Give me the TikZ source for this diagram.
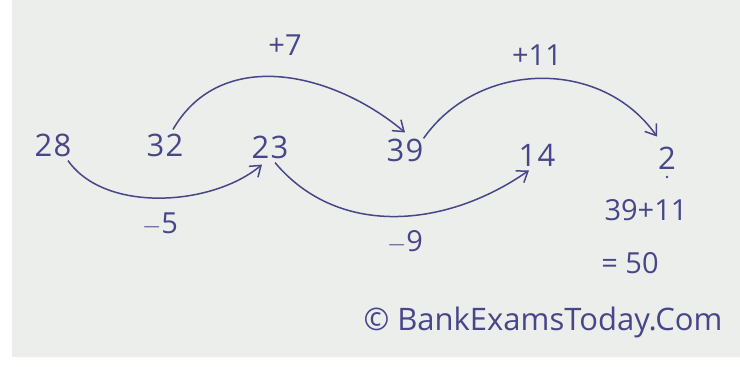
\documentclass[tikz,border=0pt]{standalone}
\usepackage{fontspec}
\setmainfont{Open Sans}
\usetikzlibrary{arrows.meta,positioning}
\definecolor{penink}{RGB}{70,70,136}
\definecolor{paper}{RGB}{236,238,235}

\begin{document}
\begin{tikzpicture}[x=1pt,y=-1pt,
      num/.style={text=penink,font=\fontsize{31}{34}\selectfont\addfontfeatures{LetterSpace=4},inner sep=2pt},
      lbl/.style={text=penink,font=\fontsize{29}{32}\selectfont},
      arr/.style={-{Straight Barb[length=3.5mm,width=5mm]},penink,line width=1.5pt}]
    \useasboundingbox (0,0) rectangle (740,367);
    \fill[white] (0,0) rectangle (740,367);
    \fill[paper] (12,0) rectangle (740,357);
    % the series
    \node[num](n28) at (53,145){28};
    \node[num](n32) at (165,145){32};
    \node[num](n23) at (270,147){23};
    \node[num](n39) at (405,150){39};
    \node[num](n14) at (537,155){14};
    \node[num](nq) at (667,158){2};
    \fill[penink] (667,177) circle (1.3);
    % jumps
    \draw[arr](n28.south)+(15,2) coordinate(a1) (a1) to[out=-55,in=-140,looseness=0.85] ([xshift=-8pt,yshift=-4pt]n23.south);
    \draw[arr](n32.north)+(8,-2) coordinate(a2) (a2) to[out=60,in=140,looseness=1.05] ([yshift=4pt]n39.north);
    \draw[arr](n23.south)+(5,2) coordinate(a3) (a3) to[out=-50,in=-145,looseness=1] ([xshift=-8pt,yshift=-2pt]n14.south);
    \draw[arr](n39.north east)+(-2,2) coordinate(a4) (a4) to[out=55,in=125,looseness=1.05] ([xshift=-10pt,yshift=8pt]nq.north);
    \node[lbl](p7) at (285,45){+7};
    \node[lbl](p11) at (537,55){+11};
    \node[lbl](m5) at (160,224){$-$5};
    \node[lbl](m9) at (405,242){$-$9};
    % answer
    \node[lbl](sum) at (646,210){39+11};
    \node[lbl](res) at (630,263){= 50};
    \node[lbl,font=\fontsize{31}{34}\selectfont](src) at (543,322){\textcopyright\ BankExamsToday.Com};
  \end{tikzpicture}
\end{document}
